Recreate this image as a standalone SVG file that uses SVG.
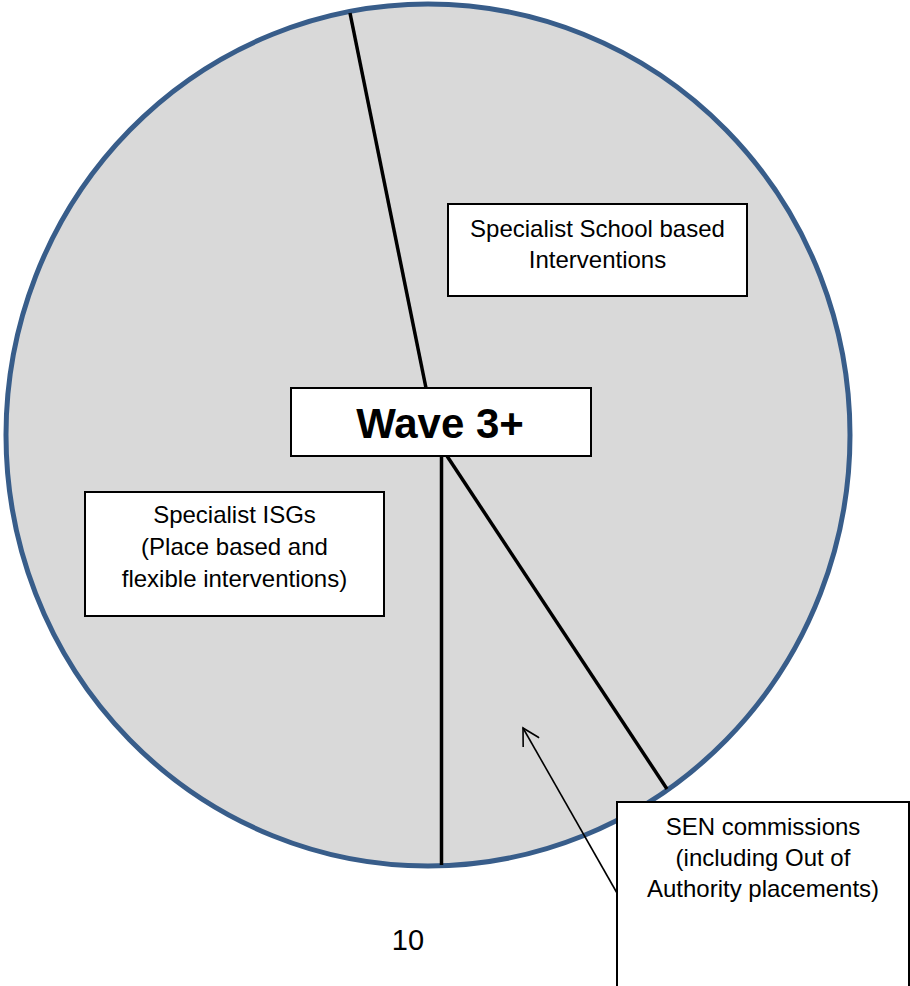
<svg xmlns="http://www.w3.org/2000/svg" width="910" height="986" viewBox="0 0 910 986">
<style>
.box{fill:#ffffff;stroke:#000000;stroke-width:2}
.lbl{font-family:"Liberation Sans",Arial,sans-serif;font-size:24px;fill:#000000;text-anchor:middle}
.div{stroke:#000000;stroke-width:3.5;fill:none}
</style>
<defs>
<marker id="openArrow" markerWidth="20" markerHeight="20" refX="17" refY="10" orient="auto" markerUnits="userSpaceOnUse">
<path d="M0.5,0.8 L17,10 L0.5,19.2" fill="none" stroke="#000000" stroke-width="1.6"/>
</marker>
</defs>
<rect x="0" y="0" width="910" height="986" fill="#ffffff"/>
<g id="circle">
<ellipse cx="428" cy="435" rx="422" ry="431" fill="#d9d9d9" stroke="#385d8a" stroke-width="5"/>
</g>
<g id="connectors">
<line class="div" x1="350" y1="13" x2="426" y2="388"/>
<line class="div" x1="441.5" y1="456" x2="441.5" y2="865"/>
<line class="div" x1="447" y1="456" x2="667" y2="789"/>
<line x1="617" y1="893" x2="523" y2="728" stroke="#000000" stroke-width="1.6" marker-end="url(#openArrow)"/>
</g>
<g id="wave3">
<rect class="box" x="291" y="388" width="300" height="68"/>
<text x="440" y="438" font-family="Liberation Sans,Arial,sans-serif" font-size="42" font-weight="bold" text-anchor="middle">Wave 3+</text>
</g>
<g id="school">
<rect class="box" x="448" y="204" width="299" height="92"/>
<text class="lbl" x="597.5" y="237">Specialist School based</text>
<text class="lbl" x="597.5" y="268">Interventions</text>
</g>
<g id="isg">
<rect class="box" x="85" y="492" width="299" height="124"/>
<text class="lbl" x="234.5" y="523">Specialist ISGs</text>
<text class="lbl" x="234.5" y="555">(Place based and</text>
<text class="lbl" x="234.5" y="587">flexible interventions)</text>
</g>
<g id="sen">
<rect class="box" x="617" y="802" width="292" height="200"/>
<text class="lbl" x="763" y="835">SEN commissions</text>
<text class="lbl" x="763" y="866">(including Out of</text>
<text class="lbl" x="763" y="897">Authority placements)</text>
</g>
<text x="408" y="950" font-family="Liberation Sans,Arial,sans-serif" font-size="29" text-anchor="middle">10</text>
</svg>
